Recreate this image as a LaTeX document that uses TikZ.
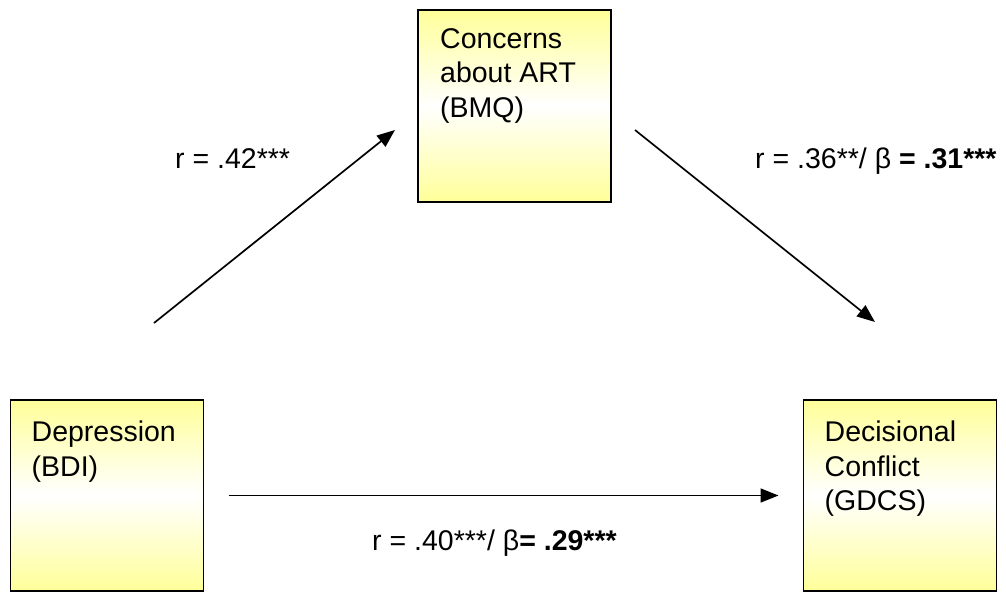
\documentclass[tikz,border=0pt]{standalone}
\usepackage{fontspec}
\setmainfont{Liberation Sans}
\usetikzlibrary{arrows.meta,positioning}
\definecolor{boxyellow}{RGB}{255,255,153}
\tikzset{
  var/.style={draw=black, line width=1.6pt, rectangle, outer sep=0pt, inner sep=0pt, minimum width=193pt, minimum height=191pt, top color=boxyellow, bottom color=boxyellow, middle color=white},
  vtxt/.style={anchor=north west, align=left, inner sep=0pt, font=\fontsize{28.5}{34.5}\selectfont},
  coef/.style={anchor=base west, inner sep=0pt, font=\fontsize{28.5}{34}\selectfont},
  arr/.style={-{Triangle[length=18pt, width=14pt]}, line width=1.7pt}
}

\begin{document}
\begin{tikzpicture}[x=1pt, y=-1pt]
  \useasboundingbox (0,0) rectangle (1006,592);
  % the three variables
  \node[var] (dep) at (107,495.5) {};
  \node[var, right=600pt of dep] (gdcs) {};
  \node[var, minimum height=192pt] (bmq) at (514.5,106) {};
  \node[vtxt] (deptxt) at ([shift={(21pt,-21pt)}]dep.north west) {Depression\\(BDI)};
  \node[vtxt] (gdcstxt) at ([shift={(21pt,-21pt)}]gdcs.north west) {Decisional\\Conflict\\(GDCS)};
  \node[vtxt] (bmqtxt) at ([shift={(22pt,-18pt)}]bmq.north west) {Concerns\\about ART\\(BMQ)};
  % paths
  \coordinate (a1s) at (154,323); \coordinate (a1e) at (395,130);
  \coordinate (a2s) at (635,130); \coordinate (a2e) at (875,322);
  \draw[arr] (a1s) -- (a1e);
  \draw[arr] (a2s) -- (a2e);
  \draw[arr, shorten <=25pt, shorten >=25pt] (dep) -- (gdcs);
  % coefficients
  \node[coef] (ca) at (175,168) {r = .42***};
  \node[coef] (cb) at (755,168) {r = .36**/ β \textbf{= .31***}};
  \node[coef] (cc) at (372,550) {r = .40***/ β\textbf{= .29***}};
\end{tikzpicture}
\end{document}
